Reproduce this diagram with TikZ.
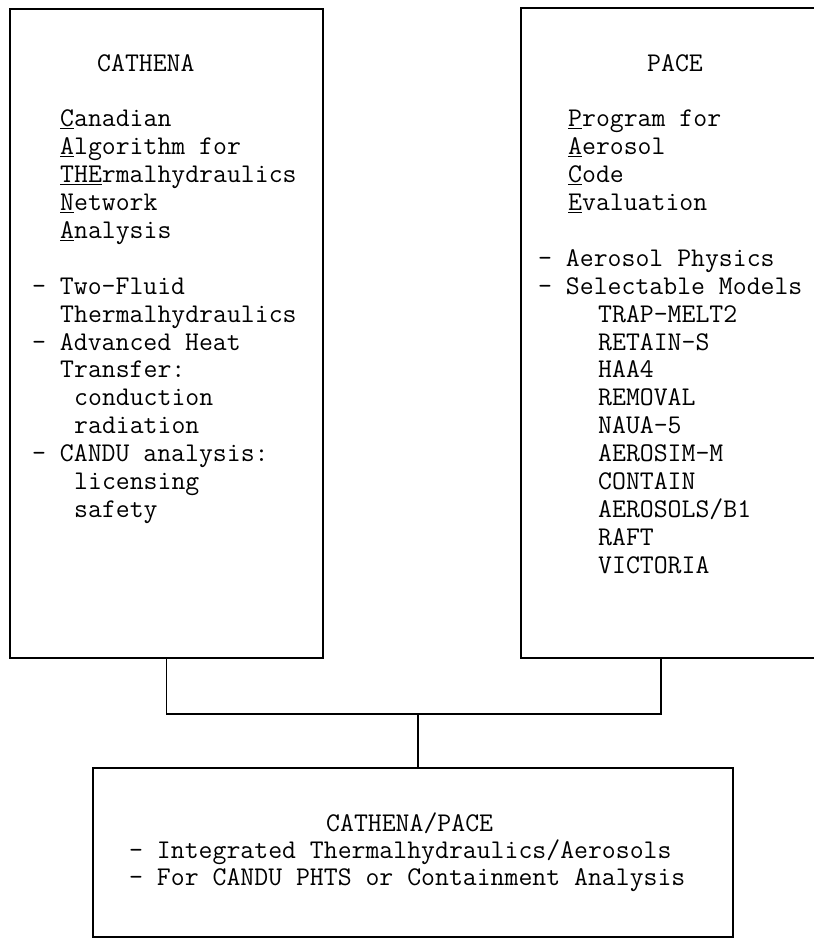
\documentclass[tikz,border=0pt]{standalone}
\usetikzlibrary{positioning}

\begin{document}
\begin{tikzpicture}[x=1pt,y=-1pt,
  box/.style={draw,line width=1.8pt,inner sep=0pt,anchor=north west},
  wire/.style={line width=1.8pt},
  line/.style={anchor=base west,inner sep=0pt,font=\fontsize{27}{28}\selectfont\ttfamily}]
\useasboundingbox (0,0) rectangle (814,938);
\clip (0,0) rectangle (814,938);

\node[box,minimum width=313pt,minimum height=649pt] (cathena) at (9,8) {};
\node[box,minimum width=330pt,minimum height=650pt] (pace) at (520,7) {};
\node[box,minimum width=640pt,minimum height=169pt] (both) at (92,767) {};

\foreach \x/\n/\t in {97/0/CATHENA,60/2/{\underline{C}anadian},60/3/{\underline{A}lgorithm for},
  60/4/{\underline{THE}rmalhydraulics},60/5/{\underline{N}etwork},60/6/{\underline{A}nalysis},
  32/8/{- Two-Fluid},60/9/Thermalhydraulics,32/10/{- Advanced Heat},60/11/{Transfer:},
  74/12/conduction,74/13/radiation,32/14/{- CANDU analysis:},74/15/licensing,74/16/safety}
  \node[line] (cat\n) at (\x,71+27.9*\n) {\t};

\foreach \x/\n/\t in {647/0/PACE,568/2/{\underline{P}rogram for},568/3/{\underline{A}erosol},
  568/4/{\underline{C}ode},568/5/{\underline{E}valuation},538/7/{- Aerosol Physics},
  538/8/{- Selectable Models},598/9/TRAP-MELT2,598/10/RETAIN-S,598/11/HAA4,598/12/REMOVAL,
  598/13/NAUA-5,598/14/AEROSIM-M,598/15/CONTAIN,598/16/{AEROSOLS/B1},598/17/RAFT,598/18/VICTORIA}
  \node[line] (pc\n) at (\x,71+27.9*\n) {\t};

\node[line] (both0) at (326,831) {CATHENA/PACE};
\node[line] (both1) at (129,858) {- Integrated Thermalhydraulics/Aerosols};
\node[line] (both2) at (129,885) {- For CANDU PHTS or Containment Analysis};

\coordinate (tee) at (418,714);
\coordinate (pacefoot) at ([xshift=141pt]pace.south west);
\draw[wire] (cathena.south) |- (tee) -| (pacefoot);
\draw[wire] (tee) -- (tee |- both.north);

\end{tikzpicture}
\end{document}
